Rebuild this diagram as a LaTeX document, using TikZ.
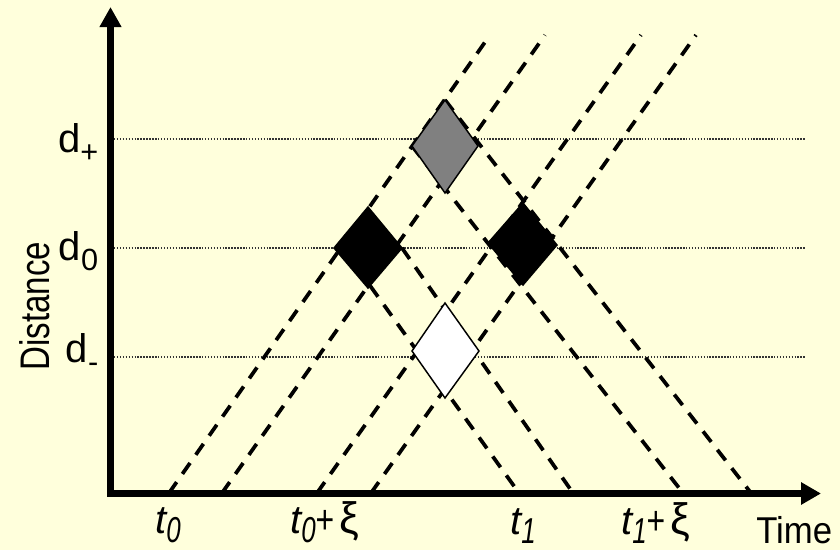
\documentclass[tikz,border=0pt]{standalone}
\usepackage{fontspec}
\setmainfont{Liberation Sans}
\newfontfamily\narrowf{Liberation Sans}[FakeStretch=0.8]
\newfontfamily\subf{Liberation Sans}[FakeStretch=0.72]
\newfontfamily\timef{Liberation Sans}[FakeStretch=0.93]
\usetikzlibrary{arrows.meta}
\definecolor{bgyellow}{RGB}{255,255,220}
\definecolor{diagray}{RGB}{128,128,128}
\newcommand{\dsub}[1]{\raisebox{-7.5pt}{\fontsize{23}{23}\selectfont #1}}
\newcommand{\tsub}[1]{\raisebox{-7pt}{\fontsize{27}{27}\selectfont\subf\itshape #1}}
\newcommand{\tplus}{{\narrowf\itshape +}}
\newcommand{\bigxi}{{\fontsize{33}{33}\selectfont\upshape ξ}}
\begin{document}
\begin{tikzpicture}[x=0.75pt,y=-0.75pt,
  wave/.style={line width=2.8pt, dash pattern=on 10pt off 7.5pt},
  level/.style={line width=0.8pt, dash pattern=on 1.1pt off 1.1pt, black!80},
  axisline/.style={line width=5.25pt, line join=miter,
    {Triangle[length=15pt,width=15.5pt]}-{Triangle[length=15pt,width=16pt]}},
  rhomb/.style={draw=black, line width=1.1pt, line join=miter},
  dlab/.style={inner sep=0pt, font=\fontsize{30}{30}\selectfont},
  tlab/.style={inner sep=0pt, font=\fontsize{30}{30}\selectfont\itshape},
]
\fill[bgyellow] (0,0) rectangle (840,550);
\useasboundingbox (0,0) rectangle (840,550);

% level lines
\coordinate (p1a) at (114,139); \coordinate (p1b) at (806,139);
\coordinate (p0a) at (114,248); \coordinate (p0b) at (806,248);
\coordinate (m1a) at (114,357); \coordinate (m1b) at (806,357);
\draw[level] (p1a) -- (p1b);
\draw[level] (p0a) -- (p0b);
\draw[level] (m1a) -- (m1b);

% rising lines
\coordinate (r1b) at (169,493); \coordinate (r1t) at (490,35);
\coordinate (r2b) at (222,493); \coordinate (r2t) at (545,35);
\coordinate (r3b) at (317,493); \coordinate (r3t) at (641,35);
\coordinate (r4b) at (371,493); \coordinate (r4t) at (696,35);
\draw[wave] (r1b) -- (r1t);
\draw[wave] (r2b) -- (r2t);
\draw[wave] (r3b) -- (r3t);
\draw[wave] (r4b) -- (r4t);

% diamond vertices
\coordinate (gT) at (445,100); \coordinate (gR) at (478,146);
\coordinate (gB) at (445,193); \coordinate (gL) at (412,146);
\coordinate (aT) at (368,207); \coordinate (aR) at (402,248);
\coordinate (aB) at (368,288); \coordinate (aL) at (334,248);
\coordinate (bT) at (523,203); \coordinate (bR) at (557,245);
\coordinate (bB) at (523,285); \coordinate (bL) at (488,243);
\coordinate (wT) at (445,303); \coordinate (wR) at (479,351);
\coordinate (wB) at (445,398); \coordinate (wL) at (412,351);

% falling lines
\coordinate (f1s) at (343,248); \coordinate (f1e) at (519,493);
\coordinate (f2e) at (573,493);
\coordinate (f3e) at (683,493);
\coordinate (f4e) at (751,493);
\draw[wave] (f1s) -- (f1e);
\draw[wave] (aR) -- (f2e);
\draw[wave] (gL) -- (f3e);
\draw[wave] (gT) -- (f4e);

% diamonds
\filldraw[rhomb, fill=diagray] (gT) -- (gR) -- (gB) -- (gL) -- cycle;
\filldraw[rhomb, fill=black] (aT) -- (aR) -- (aB) -- (aL) -- cycle;
\filldraw[rhomb, fill=black] (bT) -- (bR) -- (bB) -- (bL) -- cycle;
\filldraw[rhomb, fill=white] (wT) -- (wR) -- (wB) -- (wL) -- cycle;

% axes
\coordinate (ytip) at (110.5,7);
\coordinate (orig) at (110.5,493.5);
\coordinate (xtip) at (821,493.5);
\draw[axisline] (ytip) -- (orig) -- (xtip);

% labels
\node[dlab, anchor=base east] (ldp) at (98.5,152) {d\dsub{+}};
\node[dlab, anchor=base east] (ld0) at (98.5,260) {d\dsub{0}};
\node[dlab, anchor=base east] (ldm) at (98.5,362) {d\dsub{-}};
\node[inner sep=0pt, rotate=90, font=\fontsize{31}{31}\selectfont\narrowf] (ldist) at (35,306) {Distance};

\node[tlab, anchor=base west] (lt0) at (155,533) {t\tsub{0}};
\node[tlab, anchor=base west] (lt0x) at (290,533) {t\tsub{0}\tplus\hspace{4pt}\bigxi};
\node[tlab, anchor=base west] (lt1) at (510,534) {t\tsub{1}};
\node[tlab, anchor=base west] (lt1x) at (621,534) {t\tsub{1}\tplus\hspace{4pt}\bigxi};
\node[inner sep=0pt, anchor=base west, font=\fontsize{28}{28}\selectfont\timef] (ltime) at (756,543) {Time};
\end{tikzpicture}
\end{document}
